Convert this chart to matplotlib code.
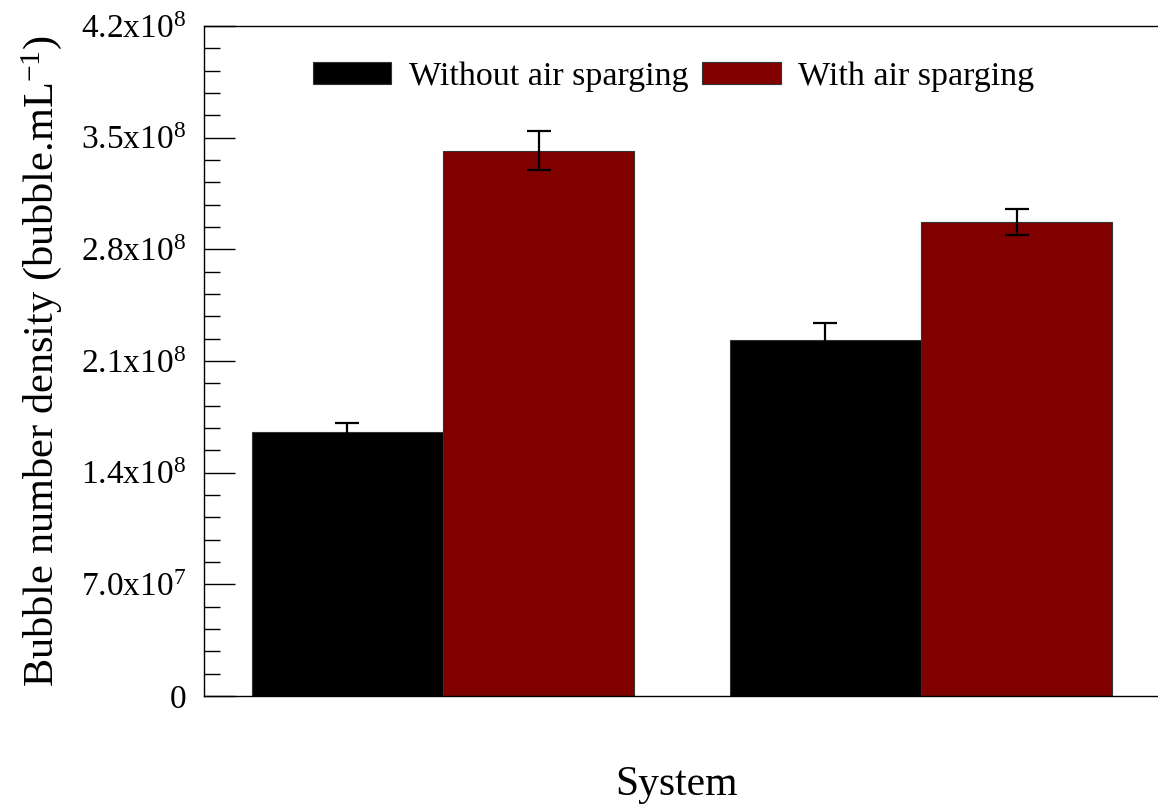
import numpy as np
import matplotlib
matplotlib.use("Agg")
import matplotlib.pyplot as plt
from matplotlib.ticker import MultipleLocator, FuncFormatter

plt.rcParams['font.family'] = ['Liberation Serif', 'DejaVu Serif']
plt.rcParams['mathtext.fontset'] = 'custom'
plt.rcParams['mathtext.rm'] = 'Liberation Serif'
plt.rcParams['mathtext.it'] = 'Liberation Serif:italic'
plt.rcParams['mathtext.bf'] = 'Liberation Serif:bold'

### data ###

systems = ["System 1", "System 2"]
without_air = [1.655e8, 2.234e8]
without_air_err = [5.6e6, 1.06e7]
with_air = [3.419e8, 2.970e8]
with_air_err = [1.24e7, 8.2e6]
series_labels = ["Without air sparging", "With air sparging"]
series_colors = ["#000000", "#800000"]

### plot ###

def sci_label(v, pos):
    if v == 0:
        return "0"
    exp = int(np.floor(np.log10(abs(v)) + 1e-9))
    mant = v / 10**exp
    return f"{mant:.1f}x10$^{{{exp}}}$"

fig = plt.figure(figsize=(11.58, 8.07), dpi=100)
ax = fig.add_axes([204/1158, 1 - 696/807, 956/1158, 670/807])

x = np.arange(len(systems))
width = 0.4
err_kw = dict(ecolor="black", elinewidth=1.6, capthick=1.6, capsize=8.6)

ax.bar(x - width/2, without_air, width, yerr=without_air_err, color=series_colors[0],
       edgecolor="#333333", linewidth=0.8, label=series_labels[0], error_kw=err_kw)
ax.bar(x + width/2, with_air, width, yerr=with_air_err, color=series_colors[1],
       edgecolor="#333333", linewidth=0.8, label=series_labels[1], error_kw=err_kw)

ax.set_xlim(-0.5, 1.5)
ax.set_ylim(0, 4.2e8)
ax.set_xticks([])

ax.yaxis.set_major_locator(MultipleLocator(7e7))
ax.yaxis.set_minor_locator(MultipleLocator(1.4e7))
ax.yaxis.set_major_formatter(FuncFormatter(sci_label))
ax.tick_params(axis="y", which="major", direction="in", length=22.5, width=1.0,
               labelsize=24, pad=13)
ax.tick_params(axis="y", which="minor", direction="in", length=11.5, width=1.0)

for side in ["left", "top", "bottom"]:
    ax.spines[side].set_linewidth(1.0)
    ax.spines[side].set_color("black")
ax.spines["right"].set_visible(False)

ax.set_ylabel("Bubble number density (bubble.mL$^{-1}$)", fontsize=30.5)
ax.yaxis.set_label_coords(-0.146, 0.5)
ax.set_xlabel("System", fontsize=30, va="baseline")
ax.xaxis.set_label_coords(0.494, -0.148)

leg = ax.legend(loc="upper left", bbox_to_anchor=(0.10, 0.968), ncol=2, frameon=False,
                fontsize=24.5, handlelength=2.3, handleheight=0.62,
                handletextpad=0.52, columnspacing=0.4, borderaxespad=0.0)
for h in leg.legend_handles:
    h.set_edgecolor("#333333")

fig.savefig("out.png", dpi=100)
